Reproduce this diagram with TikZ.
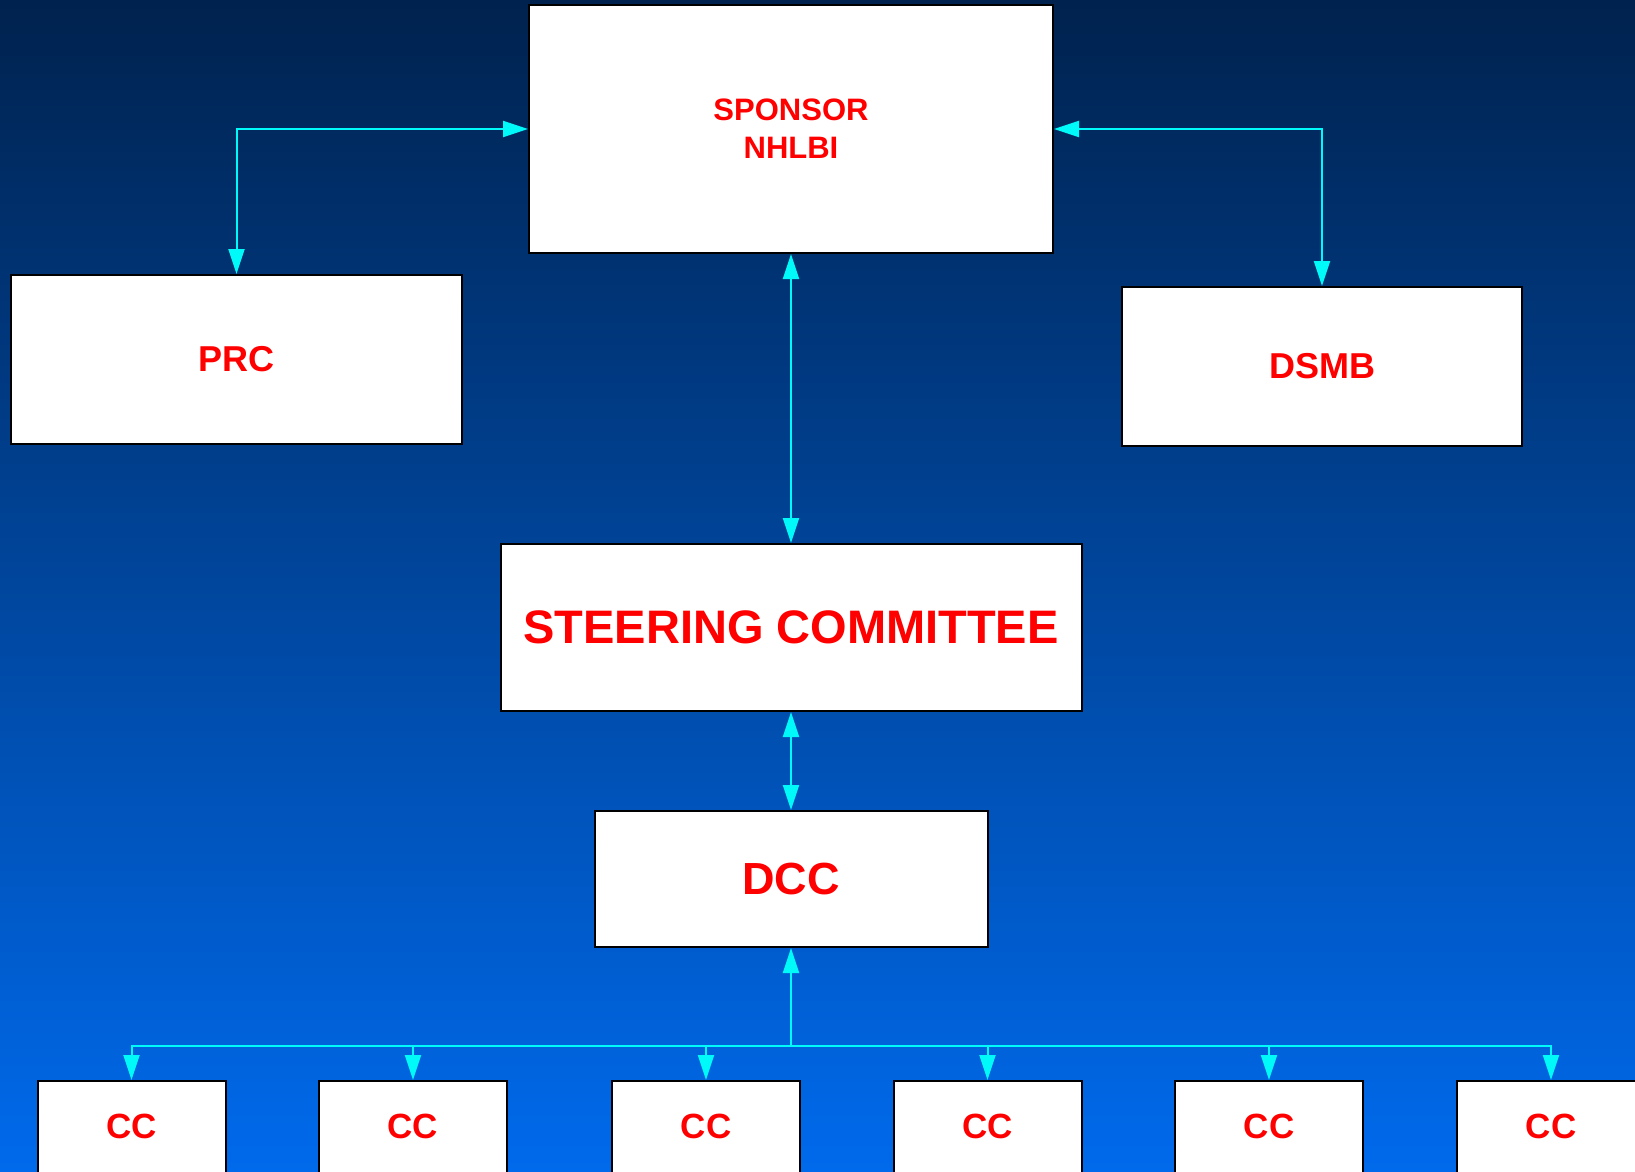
\documentclass[tikz,border=0pt]{standalone}
\usepackage{fontspec}
\setmainfont{Liberation Sans}
\usepackage{tikz}
\usetikzlibrary{arrows.meta,calc,positioning}
\definecolor{bgtop}{RGB}{0,34,78}
\definecolor{bgbot}{RGB}{0,106,236}
\definecolor{linkcyan}{RGB}{0,250,250}
\definecolor{boxred}{RGB}{255,0,0}

\begin{document}
\begin{tikzpicture}[x=1pt,y=-1pt,
  box/.style={draw=black,line width=2pt,fill=white,text=boxred,font=\bfseries,inner sep=0pt,align=center},
  link/.style={draw=linkcyan,line width=2pt,arrows={-Triangle[length=25pt,width=16pt]}},
  biglink/.style={link,arrows={Triangle[length=25pt,width=16pt]-Triangle[length=25pt,width=16pt]}},
  ccbox/.style={box,minimum width=188pt,minimum height=110pt,anchor=north,text depth=20pt,font=\bfseries\fontsize{35}{42}\selectfont}]
\useasboundingbox (0,0) rectangle (1635,1171);
\shade[top color=bgtop,bottom color=bgbot] (0,0) rectangle (1635,1171);
\node[box,minimum width=524pt,minimum height=248pt,font=\bfseries\fontsize{31}{38.2}\selectfont] (sponsor) at (791,129) {SPONSOR\\NHLBI};
\node[box,minimum width=451pt,minimum height=169pt,font=\bfseries\fontsize{36}{43}\selectfont] (prc) at (236.5,359.5) {PRC};
\node[box,minimum width=400pt,minimum height=159pt,font=\bfseries\fontsize{36}{43}\selectfont] (dsmb) at (1322,366.5) {DSMB};
\node[box,minimum width=581pt,minimum height=167pt,font=\bfseries\fontsize{47}{56}\selectfont] (steer) at (791,627.5) {STEERING COMMITTEE};
\node[box,minimum width=393pt,minimum height=136pt,font=\bfseries\fontsize{45}{54}\selectfont] (dcc) at (791,879) {DCC};
\node[ccbox] (cc1) at (131.5,1080) {CC};
\node[ccbox] (cc2) at (413,1080) {CC};
\node[ccbox] (cc3) at (706,1080) {CC};
\node[ccbox] (cc4) at (987.5,1080) {CC};
\node[ccbox] (cc5) at (1269,1080) {CC};
\node[ccbox] (cc6) at (1551,1080) {CC};
\coordinate (bus) at (791,1046);
\draw[biglink] (prc.north) |- (sponsor.west);
\draw[biglink] (dsmb.north) |- (sponsor.east);
\draw[biglink] (sponsor.south) -- (steer.north);
\draw[biglink] (steer.south) -- (dcc.north);
\draw[link] (bus) -- (dcc.south);
\foreach \i in {1,...,6}
  \draw[link] (bus) -| (cc\i.north);
\end{tikzpicture}
\end{document}
